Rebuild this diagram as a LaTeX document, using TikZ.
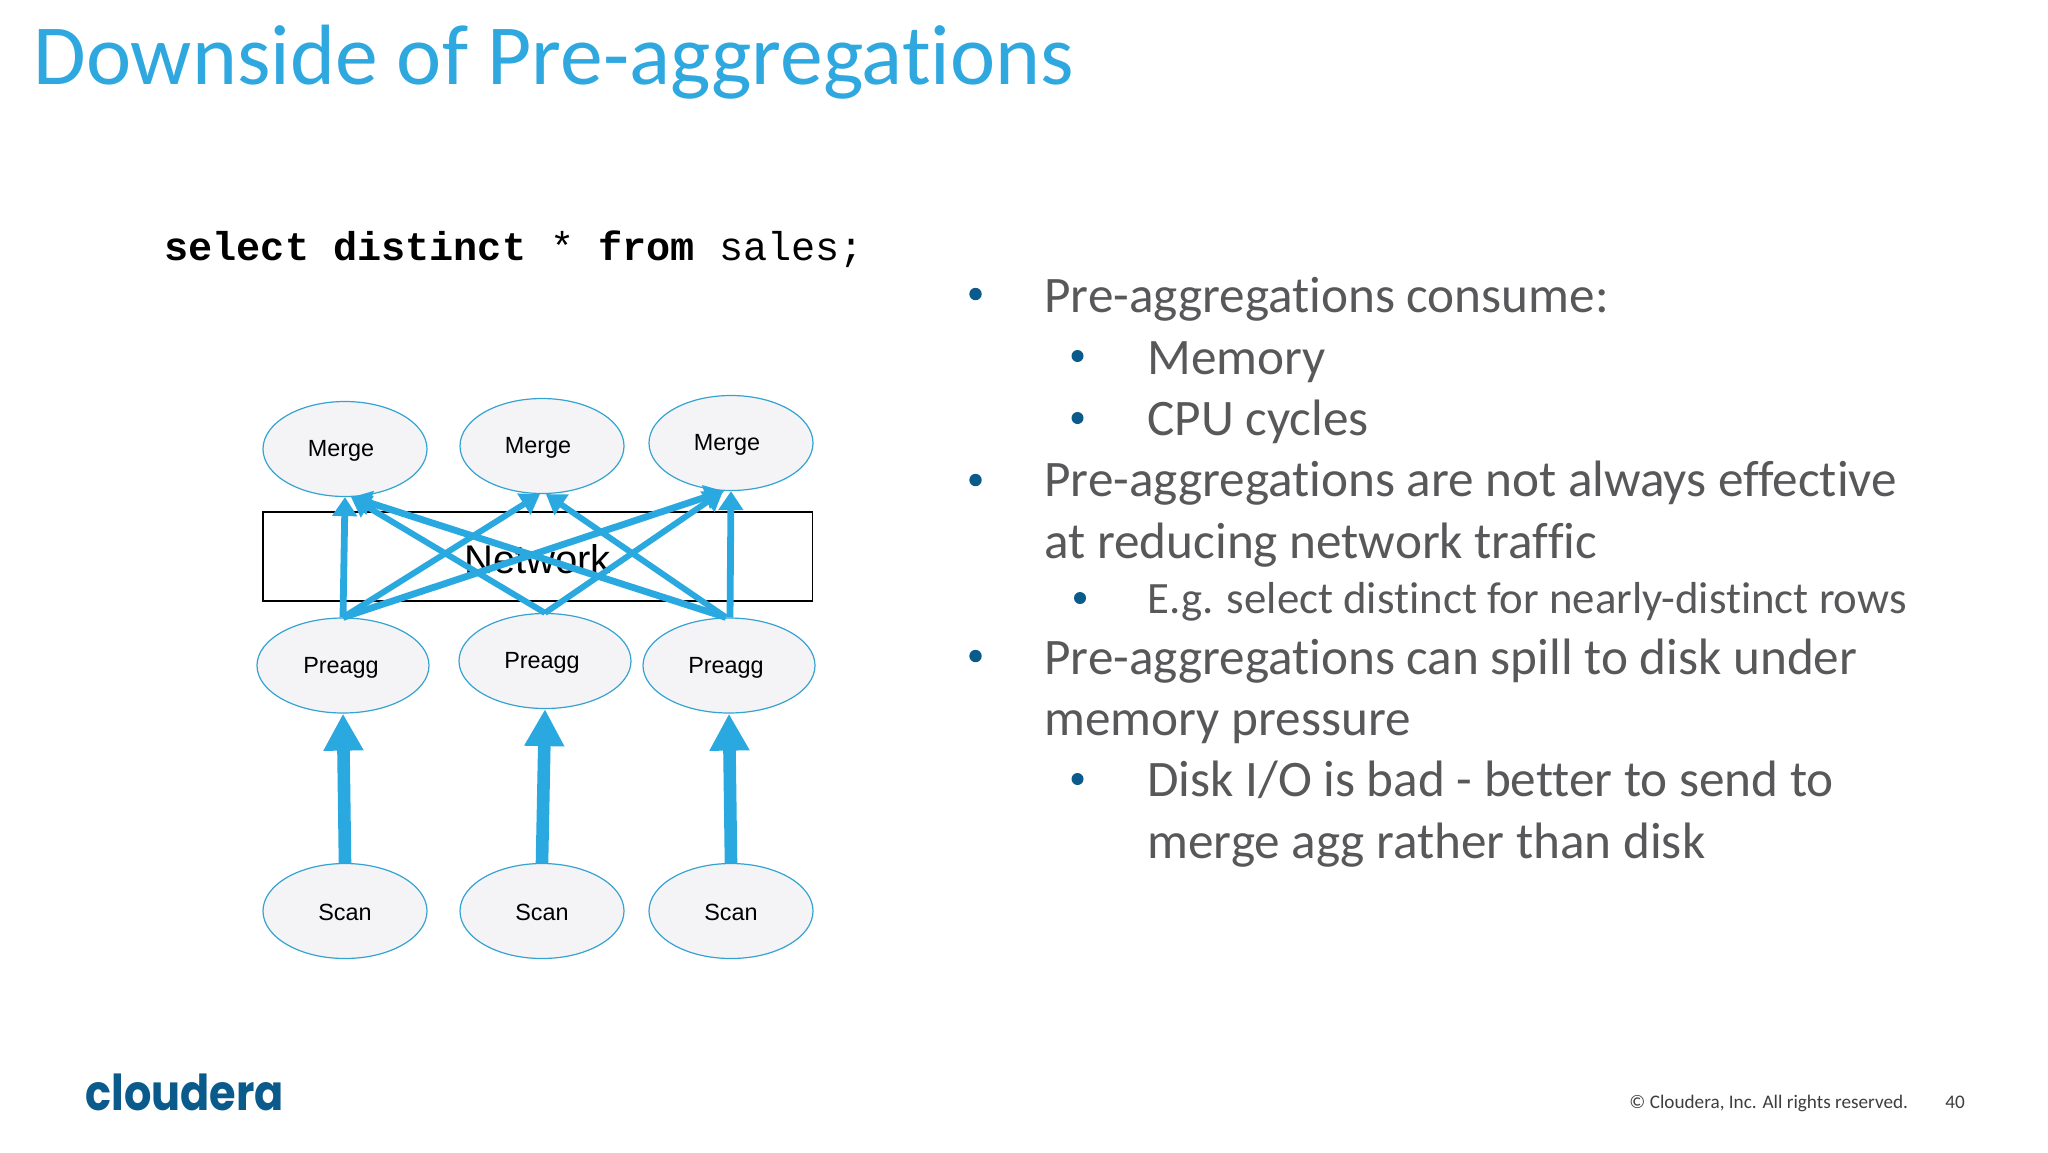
\documentclass[tikz,border=0pt]{standalone}
\usepackage{fontspec}
\setmainfont{Carlito}[RawFeature={-liga;-clig;-dlig}]
\newfontfamily\arialf{Liberation Sans}
\newfontfamily\monof{Liberation Mono}
\newfontfamily\logof{Poppins}
\usetikzlibrary{arrows.meta,shapes.geometric}
\definecolor{cblue}{HTML}{2AA9E0}
\definecolor{ctitle}{HTML}{2EA8DF}
\definecolor{cgrey}{HTML}{58585A}
\definecolor{cbul}{HTML}{0B5A8C}
\definecolor{cfill}{HTML}{F4F4F6}
\definecolor{cstroke}{HTML}{35A3D2}
\tikzset{
  x=0.5pt,y=-0.5pt,
  oval/.style={ellipse,draw=cstroke,line width=0.6pt,fill=cfill,minimum width=82pt,minimum height=47.5pt,inner sep=0pt,font=\arialf\fontsize{11.7}{14}\selectfont,text=black},
  pre/.style={oval,minimum width=86pt},
  thin arrow/.style={draw=cblue,line width=3pt,-{Triangle[length=9.5pt,width=12pt]}},
  wide arrow/.style={draw=cblue,line width=3.4pt,-{Triangle[length=9.5pt,width=12pt]}},
  vert arrow/.style={draw=cblue,line width=3.4pt,-{Triangle[length=9.5pt,width=12pt]}},
  big arrow/.style={draw=cblue,line width=6.3pt,-{Triangle[length=18.5pt,width=18.8pt]}},
  b1/.style={anchor=base west,text=cgrey,font=\fontsize{25.6}{30}\selectfont,inner sep=0pt},
  bs/.style={anchor=base west,text=cgrey,font=\fontsize{22.4}{26}\selectfont,inner sep=0pt},
  dot/.style={circle,fill=cbul,minimum size=6.2pt,inner sep=0pt,draw=none},
  dots/.style={circle,fill=cbul,minimum size=6pt,inner sep=0pt,draw=none},
  foot/.style={anchor=base west,text=cgrey!70!black,font=\fontsize{9.6}{11}\selectfont,inner sep=0pt},
}
\begin{document}
\begin{tikzpicture}
\useasboundingbox (0,0) rectangle (2048,1152);
\fill[white] (0,0) rectangle (2048,1152);
\node[anchor=base west,inner sep=0,text=ctitle,font=\fontsize{42.8}{48}\selectfont] (title) at (33,84) {Downside of Pre-aggregations};
\node[anchor=base west,inner sep=0,text=black,font=\monof\fontsize{20.1}{24}\selectfont] (sql) at (164,260) {\textbf{select distinct} * \textbf{from} sales;};
% network
\node[draw=black,line width=0.7pt,minimum width=274.7pt,minimum height=44.5pt,inner sep=0,anchor=center] (net) at (537.7,556.5) {};
\node[font=\arialf\fontsize{20}{24}\selectfont,inner sep=0] (nettext) at (537.5,559) {Network};
% nodes
\node[oval] (m1) at (345,449) {\hspace*{-4pt}\raisebox{-3.9pt}[0pt][0pt]{Merge}};
\node[oval] (m2) at (542,446) {\hspace*{-4pt}\raisebox{-3.9pt}[0pt][0pt]{Merge}};
\node[oval] (m3) at (731,443) {\hspace*{-4pt}\raisebox{-3.9pt}[0pt][0pt]{Merge}};
\node[pre] (p1) at (343,665.5) {\hspace*{-2pt}\raisebox{-3.8pt}[0pt][0pt]{Preagg}};
\node[pre] (p2) at (545,661) {\hspace*{-3pt}\raisebox{-3.8pt}[0pt][0pt]{Preagg}};
\node[pre] (p3) at (729,665.5) {\hspace*{-3pt}\raisebox{-3.8pt}[0pt][0pt]{Preagg}};
\node[oval] (s1) at (345,911) {\raisebox{-4.6pt}[0pt][0pt]{Scan}};
\node[oval] (s2) at (542,911) {\raisebox{-4.6pt}[0pt][0pt]{Scan}};
\node[oval] (s3) at (731,911) {\raisebox{-4.6pt}[0pt][0pt]{Scan}};
% connectors
\draw[vert arrow] (p1.north) -- (m1.south);
\draw[vert arrow] ([xshift=0.5pt]p3.north) -- (m3.south);
\draw[thin arrow] (p1.north) -- ([xshift=-1pt]m2.south);
\draw[wide arrow] (p1.north) -- ([xshift=-3.5pt]m3.south);
\draw[thin arrow] (p2.north) -- ([xshift=3pt]m1.south);
\draw[thin arrow] (p2.north) -- ([xshift=-4pt]m3.south);
\draw[wide arrow] ([xshift=-1.5pt]p3.north) -- ([xshift=3.5pt]m1.south);
\draw[thin arrow] ([xshift=-1.5pt]p3.north) -- ([xshift=2pt]m2.south);
\draw[big arrow] (s1.north) -- (p1.south);
\draw[big arrow] (s2.north) -- (p2.south);
\draw[big arrow] (s3.north) -- (p3.south);
% bullets
\node[dot] (d1) at (975.5,294) {};
\node[b1] (t1) at (1044,312.5) {Pre-aggregations consume:};
\node[dots] (d2) at (1077.5,356) {};
\node[b1] (t2) at (1147,374) {Memory};
\node[dots] (d3) at (1077.5,418) {};
\node[b1] (t3) at (1147,435.5) {CPU cycles};
\node[dot] (d4) at (975.5,480) {};
\node[b1] (t4) at (1044,496.5) {Pre-aggregations are not always effective};
\node[b1] (t5) at (1044,558) {at reducing network traffic};
\node[dots] (d5) at (1080,598) {};
\node[bs] (t6) at (1147,613.5) {E.g. select distinct for nearly-distinct rows};
\node[dot] (d6) at (975.5,656) {};
\node[b1] (t7) at (1044,674) {Pre-aggregations can spill to disk under};
\node[b1] (t8) at (1044,735) {memory pressure};
\node[dots] (d7) at (1077.5,779) {};
\node[b1] (t9) at (1147,796) {Disk I/O is bad - better to send to};
\node[b1] (t10) at (1147,858) {merge agg rather than disk};
% footer
\node[anchor=base west,inner sep=0,text=cbul,font=\logof\bfseries\fontsize{21.5}{26}\selectfont] (logo) at (85,1110) {\scalebox{1}[1.15]{cloudera}};
\node[foot] (copy) at (1638,1108) {\hspace*{-4.5pt}© Cloudera, Inc. All rights reserved.};
\node[foot] (page) at (1950,1108) {\hspace*{-2.5pt}40};
\end{tikzpicture}
\end{document}
